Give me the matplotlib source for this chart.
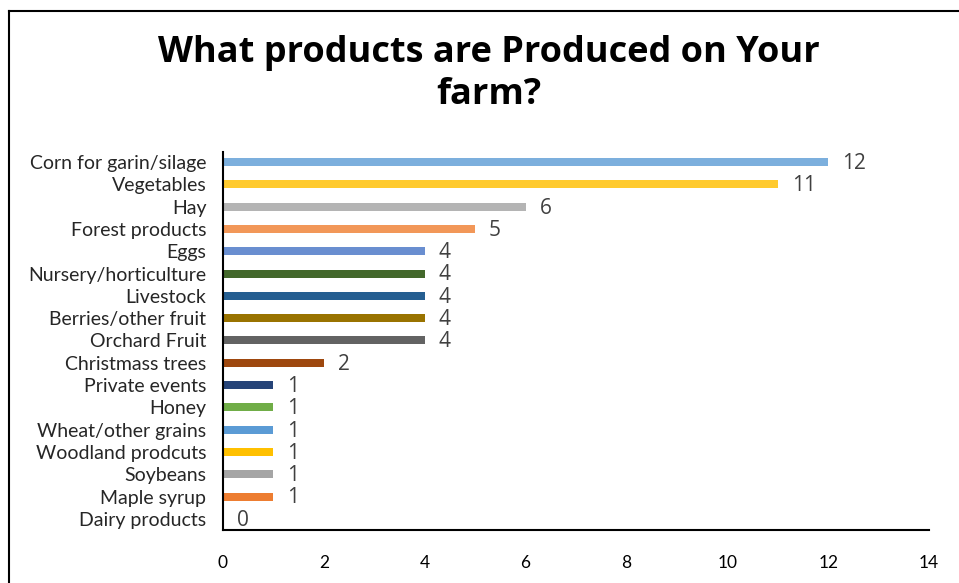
import matplotlib
matplotlib.use("Agg")
import matplotlib.pyplot as plt
from matplotlib.lines import Line2D

# -------------------------------------------------------
# Données
# -------------------------------------------------------

categories = [
    "Corn for garin/silage", "Vegetables", "Hay", "Forest products", "Eggs",
    "Nursery/horticulture", "Livestock", "Berries/other fruit", "Orchard Fruit",
    "Christmass trees", "Private events", "Honey", "Wheat/other grains",
    "Woodland prodcuts", "Soybeans", "Maple syrup", "Dairy products",
]
counts = [12, 11, 6, 5, 4, 4, 4, 4, 4, 2, 1, 1, 1, 1, 1, 1, 0]
colors = [
    "#7CAFDD", "#FFCA2E", "#B4B4B4", "#F29758", "#698ED0",
    "#43682B", "#255E91", "#997300", "#636363", "#9E480E",
    "#264478", "#70AD47", "#5B9BD5", "#FFC000", "#A5A5A5",
    "#ED7D31", "#4472C4",
]
x_ticks = [0, 2, 4, 6, 8, 10, 12, 14]

# -------------------------------------------------------
# Figure
# -------------------------------------------------------

fig = plt.figure(figsize=(9.59, 5.83), dpi=100)
ax = fig.add_axes([223 / 959, 1 - 530 / 583, (929 - 223) / 959, (530 - 152) / 583])

y_pos = list(range(len(categories)))[::-1]
ax.barh(y_pos, counts, height=0.36, color=colors)

for y, v in zip(y_pos, counts):
    ax.annotate(str(v), (v, y), xytext=(10, -1), textcoords="offset points",
                va="center", ha="left", fontsize=15, color="#404040",
                family="Open Sans")

ax.set_xlim(0, 14)
ax.set_ylim(-0.5, 16.45)
ax.set_xticks(x_ticks)
ax.set_xticklabels([str(t) for t in x_ticks], family="Lato", fontsize=12.5)
ax.set_yticks(y_pos)
ax.set_yticklabels(categories, family="Lato", fontsize=14, color="#262626")
ax.tick_params(axis="both", length=0)
ax.tick_params(axis="x", pad=18)
ax.tick_params(axis="y", pad=12)

for side in ["top", "right"]:
    ax.spines[side].set_visible(False)
ax.spines["left"].set_linewidth(1.5)
ax.spines["bottom"].set_linewidth(1.5)

fig.text(489 / 959, 1 - 74 / 583, "What products are Produced on Your\nfarm?",
         ha="center", va="center", fontsize=26, fontweight="bold",
         family="Open Sans", linespacing=1.2)

# cadre
fig.add_artist(Line2D([9 / 959, 9 / 959], [0, 1 - 11 / 583], color="black", lw=1.5))
fig.add_artist(Line2D([9 / 959, 1], [1 - 11 / 583, 1 - 11 / 583], color="black", lw=1.5))

fig.savefig("out.png", dpi=100)
